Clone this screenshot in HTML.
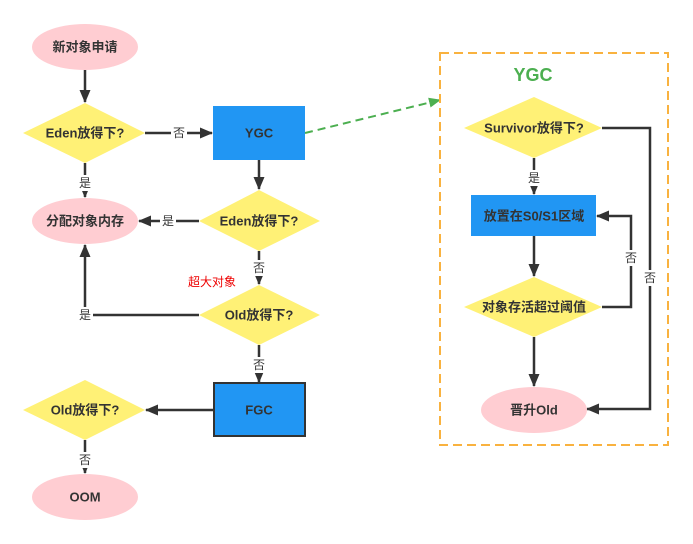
<!DOCTYPE html>
<html><head><meta charset="utf-8"><style>
html,body{margin:0;padding:0;background:#fff;width:693px;height:544px;overflow:hidden}
text{font-family:"Liberation Sans","Noto Sans CJK SC",sans-serif;font-weight:bold;font-size:13px;fill:#333;text-anchor:middle;dominant-baseline:central}
.l{font-weight:normal;font-size:12px}
</style></head><body>
<svg width="693" height="544" viewBox="0 0 693 544">
<defs>
<marker id="a" markerWidth="13" markerHeight="11" refX="12" refY="5.5" orient="auto" markerUnits="userSpaceOnUse"><path d="M0,0 L13,5.5 L0,11 z" fill="#333"/></marker>
<marker id="g" markerWidth="12" markerHeight="10" refX="11" refY="5" orient="auto" markerUnits="userSpaceOnUse"><path d="M0,0 L12,5 L0,10 z" fill="#4caf50"/></marker>
</defs>
<g stroke="#333" stroke-width="2.5" fill="none">
<line x1="85" y1="70" x2="85" y2="102" marker-end="url(#a)"/>
<line x1="145" y1="133" x2="212" y2="133" marker-end="url(#a)"/>
<line x1="85" y1="163" x2="85" y2="197" marker-end="url(#a)"/>
<line x1="259" y1="160" x2="259" y2="189" marker-end="url(#a)"/>
<line x1="199" y1="221" x2="139" y2="221" marker-end="url(#a)"/>
<line x1="259" y1="251" x2="259" y2="284" marker-end="url(#a)"/>
<polyline points="199,315 85,315 85,245" marker-end="url(#a)"/>
<line x1="259" y1="345" x2="259" y2="382" marker-end="url(#a)"/>
<line x1="214" y1="410" x2="146" y2="410" marker-end="url(#a)"/>
<line x1="85" y1="440" x2="85" y2="473" marker-end="url(#a)"/>
<line x1="534" y1="158" x2="534" y2="194" marker-end="url(#a)"/>
<line x1="534" y1="236" x2="534" y2="276" marker-end="url(#a)"/>
<line x1="534" y1="337" x2="534" y2="386" marker-end="url(#a)"/>
<polyline points="602,307 631,307 631,216 597,216" marker-end="url(#a)"/>
<polyline points="602,128 650,128 650,409 587,409" marker-end="url(#a)"/>
</g>
<line x1="305" y1="133" x2="440" y2="100" stroke="#4caf50" stroke-width="2" stroke-dasharray="8,5" marker-end="url(#g)"/>
<rect x="440" y="53" width="228" height="392" fill="none" stroke="#f9b23f" stroke-width="2" stroke-dasharray="9,5"/>
<ellipse cx="85" cy="47" rx="53" ry="23" fill="#ffcdd2"/>
<polygon points="23,133 85,103 145,133 85,163" fill="#fff176"/>
<rect x="213" y="106" width="92" height="54" fill="#2196f3"/>
<ellipse cx="85" cy="221" rx="53" ry="23" fill="#ffcdd2"/>
<polygon points="199,221 259,190 320,221 259,251" fill="#fff176"/>
<polygon points="199,315 259,285 320,315 259,345" fill="#fff176"/>
<rect x="214" y="383" width="91" height="53" fill="#2196f3" stroke="#333" stroke-width="2"/>
<polygon points="23,410 85,380 145,410 85,440" fill="#fff176"/>
<ellipse cx="85" cy="497" rx="53" ry="23" fill="#ffcdd2"/>
<polygon points="464,128 534,97 602,128 534,158" fill="#fff176"/>
<rect x="471" y="195" width="125" height="41" fill="#2196f3"/>
<polygon points="464,307 534,277 602,307 534,337" fill="#fff176"/>
<ellipse cx="534" cy="410" rx="53" ry="23" fill="#ffcdd2"/>
<text x="85" y="47">新对象申请</text>
<text x="85" y="133">Eden放得下?</text>
<text x="259" y="133">YGC</text>
<text x="85" y="221">分配对象内存</text>
<text x="259" y="221">Eden放得下?</text>
<text x="259" y="315">Old放得下?</text>
<text x="259" y="410">FGC</text>
<text x="85" y="410">Old放得下?</text>
<text x="85" y="497">OOM</text>
<text x="533" y="75" style="fill:#4caf50;font-size:18px">YGC</text>
<text x="534" y="128">Survivor放得下?</text>
<text x="534" y="216">放置在S0/S1区域</text>
<text x="534" y="307">对象存活超过阈值</text>
<text x="534" y="410">晋升Old</text>
<text x="212" y="282" style="fill:#e00;font-weight:normal;font-size:12px">超大对象</text>
<g class="l">
<rect x="171" y="125" width="16" height="16" fill="#fff"/><text class="l" x="179" y="133">否</text>
<rect x="77" y="175" width="16" height="16" fill="#fff"/><text class="l" x="85" y="183">是</text>
<rect x="160" y="213" width="16" height="16" fill="#fff"/><text class="l" x="168" y="221">是</text>
<rect x="251" y="260" width="16" height="16" fill="#fff"/><text class="l" x="259" y="268">否</text>
<rect x="77" y="307" width="16" height="16" fill="#fff"/><text class="l" x="85" y="315">是</text>
<rect x="251" y="357" width="16" height="16" fill="#fff"/><text class="l" x="259" y="365">否</text>
<rect x="77" y="452" width="16" height="16" fill="#fff"/><text class="l" x="85" y="460">否</text>
<rect x="526" y="170" width="16" height="16" fill="#fff"/><text class="l" x="534" y="178">是</text>
<rect x="623" y="250" width="16" height="16" fill="#fff"/><text class="l" x="631" y="258">否</text>
<rect x="642" y="270" width="16" height="16" fill="#fff"/><text class="l" x="650" y="278">否</text>
</g>
</svg>
</body></html>
